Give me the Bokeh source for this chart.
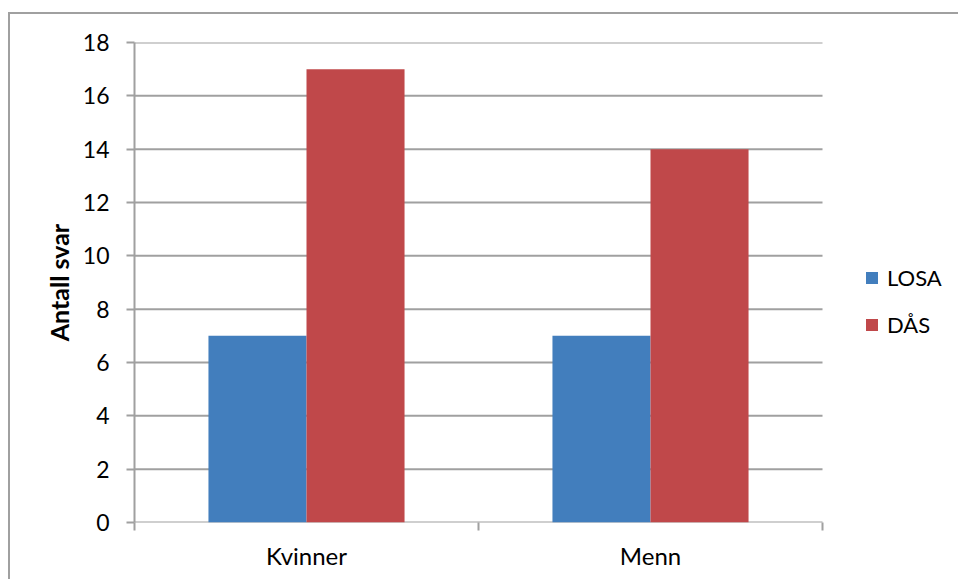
from bokeh.plotting import figure
from bokeh.models import FixedTicker, Legend, LegendItem, ColumnDataSource
from bokeh.embed import file_html
from bokeh.resources import INLINE

categories = ["Kvinner", "Menn"]
series_names = ["LOSA", "DÅS"]
losa = [7, 7]
das = [17, 14]
y_ticks = [0, 2, 4, 6, 8, 10, 12, 14, 16, 18]
y_label = "Antall svar"

colors = ["#427EBD", "#C0484A"]
FONT = "Lato"
GRAY = "#a0a0a0"

n = len(categories)
centers = [i + 0.5 for i in range(n)]
bar_w = 0.285
# frame is wider than the plot area so the legend (inside the frame) can sit at the right
PLOT_W = 688
FRAME_W = 826
x_end = n * FRAME_W / PLOT_W

src = ColumnDataSource(dict(
    x_losa=[c - bar_w / 2 for c in centers],
    x_das=[c + bar_w / 2 for c in centers],
    losa=losa, das=das,
))
grid_src = ColumnDataSource(dict(
    x0=[0] * len(y_ticks), x1=[n] * len(y_ticks), y=y_ticks,
))

p = figure(width=950, height=567, x_range=(0, x_end), y_range=(0, max(y_ticks)),
           output_backend="svg", toolbar_location=None,
           min_border_left=124, min_border_right=0, min_border_top=28, min_border_bottom=59,
           margin=(12, 0, 0, 8),
           styles={"border-top": "2px solid #a0a0a0", "border-left": "2px solid #a0a0a0"})
p.outline_line_color = None

# gridlines (and the category axis line at 0) limited to the plot area
p.segment(x0="x0", x1="x1", y0="y", y1="y", source=grid_src, line_color=GRAY, line_width=2)

r1 = p.vbar(x="x_losa", top="losa", width=bar_w, source=src, fill_color=colors[0], line_color=None)
r2 = p.vbar(x="x_das", top="das", width=bar_w, source=src, fill_color=colors[1], line_color=None)

# x axis
p.xaxis.ticker = FixedTicker(ticks=centers, minor_ticks=list(range(n + 1)))
p.xaxis.major_label_overrides = {c: lab for c, lab in zip(centers, categories)}
p.xaxis.major_tick_line_color = None
p.xaxis.minor_tick_line_color = GRAY
p.xaxis.minor_tick_line_width = 2
p.xaxis.minor_tick_out = 8
p.xaxis.minor_tick_in = 0
p.xaxis.axis_line_color = None
p.xaxis.major_label_text_font = FONT
p.xaxis.major_label_text_font_size = "24px"
p.xaxis.major_label_text_color = "#000000"
p.xaxis.major_label_standoff = 10
p.xgrid.grid_line_color = None
p.ygrid.grid_line_color = None

# y axis
p.yaxis.ticker = FixedTicker(ticks=y_ticks)
p.yaxis.minor_tick_line_color = None
p.yaxis.major_tick_line_color = GRAY
p.yaxis.major_tick_line_width = 2
p.yaxis.major_tick_out = 8
p.yaxis.major_tick_in = 0
p.yaxis.axis_line_color = GRAY
p.yaxis.axis_line_width = 2
p.yaxis.major_label_text_font = FONT
p.yaxis.major_label_text_font_size = "23px"
p.yaxis.major_label_text_color = "#000000"
p.yaxis.major_label_standoff = 17
p.yaxis.axis_label = y_label
p.yaxis.axis_label_text_font = FONT
p.yaxis.axis_label_text_font_style = "bold"
p.yaxis.axis_label_text_font_size = "25px"
p.yaxis.axis_label_text_color = "#000000"
p.yaxis.axis_label_standoff = 6

legend = Legend(items=[LegendItem(label=series_names[0], renderers=[r1]),
                       LegendItem(label=series_names[1], renderers=[r2])],
                location=(730, 184), orientation="vertical",
                glyph_width=15, glyph_height=15, label_standoff=8,
                label_height=24, spacing=20, padding=0, margin=0,
                border_line_color=None, background_fill_alpha=0,
                label_text_font=FONT, label_text_font_size="22px", label_text_color="#000000")
p.add_layout(legend, "center")

open("out.html", "w").write(file_html(p, INLINE))
